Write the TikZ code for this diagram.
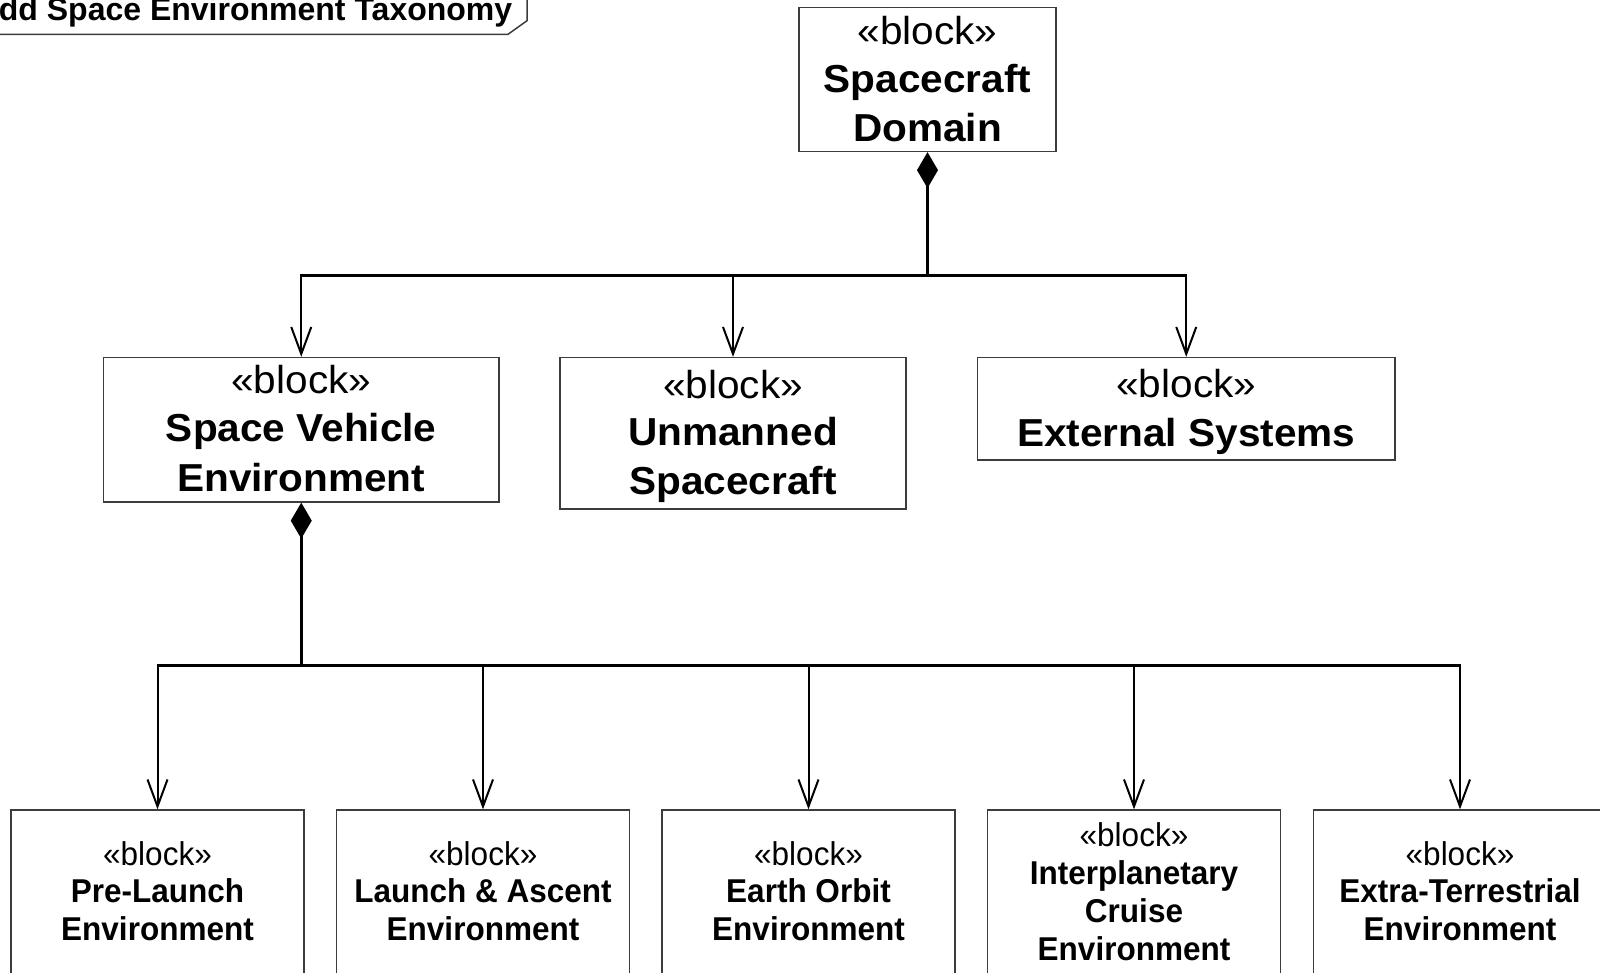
\documentclass[tikz,border=0pt]{standalone}
\usepackage{fontspec}
\setmainfont{Liberation Sans}
\newfontfamily\upfont[FakeStretch=1.04]{Liberation Sans}
\newfontfamily\lowfont[FakeStretch=0.955]{Liberation Sans}
\usetikzlibrary{arrows.meta}
\definecolor{boxgray}{RGB}{60,60,60}
\tikzset{
  blk/.style={draw=boxgray, line width=1.3pt, inner sep=0pt, rectangle},
  up/.style={font=\upfont\fontsize{39}{47}\selectfont, anchor=base, inner sep=0pt},
  upb/.style={font=\upfont\bfseries\fontsize{39}{47}\selectfont, anchor=base, inner sep=0pt},
  lo/.style={font=\lowfont\fontsize{33}{38}\selectfont, anchor=base, inner sep=0pt},
  lob/.style={font=\lowfont\bfseries\fontsize{33}{38}\selectfont, anchor=base, inner sep=0pt},
  ttl/.style={font=\bfseries\fontsize{32}{38}\selectfont, anchor=base west, inner sep=0pt},
  framel/.style={draw=boxgray, line width=1.5pt},
  comp/.style={line width=3pt, {Diamond[length=36pt,width=21pt]}-},
  bus/.style={line width=3pt},
  arr/.style={line width=2pt, -{Straight Barb[length=27pt,width=20pt]}}
}
\begin{document}
\begin{tikzpicture}[x=1pt,y=-1pt]
\useasboundingbox (0,0) rectangle (1600,972);

% frame title
\node[ttl] (title) at (-1.3,20.5) {dd Space Environment Taxonomy};
\draw[framel] (-5,34.3) -- (508,34.3) -- (527,20.7) -- (527,-5);

% boxes
\node[blk, minimum width=257pt, minimum height=144pt] (sd) at (927.5,79.5) {};
\node[blk, minimum width=395.5pt, minimum height=144.5pt] (sve) at (301.25,429.75) {};
\node[blk, minimum width=346pt, minimum height=151.5pt] (um) at (733,433.25) {};
\node[blk, minimum width=417.5pt, minimum height=102.5pt] (ext) at (1186.25,408.75) {};
\node[blk, minimum width=293pt, minimum height=190pt] (b1) at (157.5,905) {};
\node[blk, minimum width=293pt, minimum height=190pt] (b2) at (483,905) {};
\node[blk, minimum width=293pt, minimum height=190pt] (b3) at (808.5,905) {};
\node[blk, minimum width=293pt, minimum height=190pt] (b4) at (1134,905) {};
\node[blk, minimum width=293pt, minimum height=190pt] (b5) at (1460,905) {};

% texts
\node[up]  (sd1) at (927.5,44) {«block»};
\node[upb] (sd2) at (927.5,92.5) {Spacecraft};
\node[upb] (sd3) at (927.5,141) {Domain};

\node[up]  (sve1) at (301.25,393.3) {«block»};
\node[upb] (sve2) at (301.25,441.7) {Space Vehicle};
\node[upb] (sve3) at (301.25,491.7) {Environment};

\node[up]  (um1) at (733,398) {«block»};
\node[upb] (um2) at (733,445) {Unmanned};
\node[upb] (um3) at (733,494) {Spacecraft};

\node[up]  (ext1) at (1186.25,397) {«block»};
\node[upb] (ext2) at (1186.25,446) {External Systems};

\node[lo]  (b1a) at (157.5,865) {«block»};
\node[lob] (b1b) at (157.5,902.5) {Pre-Launch};
\node[lob] (b1c) at (157.5,940) {Environment};

\node[lo]  (b2a) at (483,865) {«block»};
\node[lob] (b2b) at (483,902.5) {Launch \& Ascent};
\node[lob] (b2c) at (483,940) {Environment};

\node[lo]  (b3a) at (808.5,865) {«block»};
\node[lob] (b3b) at (808.5,902.5) {Earth Orbit};
\node[lob] (b3c) at (808.5,940) {Environment};

\node[lo]  (b4a) at (1134,846.5) {«block»};
\node[lob] (b4b) at (1134,884) {Interplanetary};
\node[lob] (b4c) at (1134,922) {Cruise};
\node[lob] (b4d) at (1134,960) {Environment};

\node[lo]  (b5a) at (1460,865) {«block»};
\node[lob] (b5b) at (1460,902.5) {Extra-Terrestrial};
\node[lob] (b5c) at (1460,940) {Environment};

% upper composition
\coordinate (j1) at (927.5,275);
\draw[comp] (sd.south) -- (j1);
\draw[bus] (sve.north |- j1) -- (ext.north |- j1);
\draw[arr] (j1) -| (sve.north);
\draw[arr] (j1) -| (um.north);
\draw[arr] (j1) -| (ext.north);

% lower composition
\coordinate (j2) at (301.25,665);
\draw[comp] (sve.south) -- (j2);
\draw[bus] (b1.north |- j2) -- (b5.north |- j2);
\draw[arr] (j2) -| (b1.north);
\draw[arr] (j2) -| (b2.north);
\draw[arr] (j2) -| (b3.north);
\draw[arr] (j2) -| (b4.north);
\draw[arr] (j2) -| (b5.north);
\end{tikzpicture}
\end{document}
